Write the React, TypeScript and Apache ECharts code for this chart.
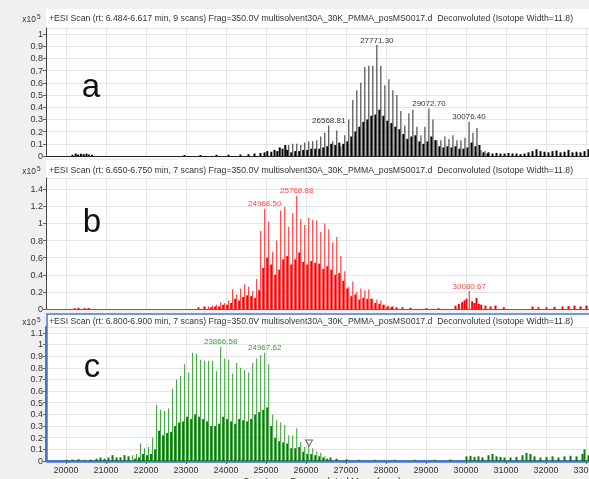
import React, { useEffect, useRef } from 'react';
import * as echarts from 'echarts';

const X_MIN = 19500;
const X_MAX = 33075;
const FONT = 'Liberation Sans, Arial, sans-serif';

const HEADERS = [
  '+ESI Scan (rt: 6.484-6.617 min, 9 scans) Frag=350.0V multisolvent30A_30K_PMMA_posMS0017.d  Deconvoluted (Isotope Width=11.8)',
  '+ESI Scan (rt: 6.650-6.750 min, 7 scans) Frag=350.0V multisolvent30A_30K_PMMA_posMS0017.d  Deconvoluted (Isotope Width=11.8)',
  '+ESI Scan (rt: 6.800-6.900 min, 7 scans) Frag=350.0V multisolvent30A_30K_PMMA_posMS0017.d  Deconvoluted (Isotope Width=11.8)',
];
const PANEL_LETTERS = ['a', 'b', 'c'];
const X_TITLE = 'Counts vs. Deconvoluted Mass (amu)';
const Y_UNIT = 'x10';
const Y_EXP = '5';

// ---- Panel a (black) ----
const aMain: [number, number][] = [
  [25569, 0.09], [25669, 0.10], [25769, 0.10], [25869, 0.09], [25969, 0.11], [26069, 0.12], [26169, 0.12],
  [26270, 0.13], [26370, 0.16], [26470, 0.19], [26568.81, 0.25], [26670, 0.12], [26770, 0.21], [26870, 0.08],
  [26970, 0.17], [27070, 0.30], [27171, 0.46], [27271, 0.54], [27371, 0.60], [27471, 0.73], [27571, 0.74],
  [27671, 0.74], [27771.3, 0.91], [27871, 0.74], [27972, 0.58], [28072, 0.63], [28172, 0.54], [28272, 0.50],
  [28372, 0.37], [28472, 0.25], [28572, 0.35], [28672, 0.38], [28773, 0.24], [28873, 0.17], [28973, 0.24],
  [29072.7, 0.39], [29173, 0.30], [29273, 0.13], [29373, 0.13], [29473, 0.16], [29574, 0.14], [29674, 0.17],
  [29774, 0.13], [29874, 0.13], [29974, 0.15], [30076.4, 0.28], [30174, 0.19], [30274, 0.23], [30374, 0.05],
  [30475, 0.04],
];
const aSub: [number, number][] = [
  [25619, 0.03], [25719, 0.04], [25819, 0.04], [25919, 0.05], [26019, 0.05], [26119, 0.06], [26219, 0.06],
  [26320, 0.06], [26420, 0.07], [26520, 0.08], [26619, 0.10], [26720, 0.09], [26820, 0.11], [26920, 0.10],
  [27020, 0.12], [27120, 0.16], [27221, 0.20], [27321, 0.24], [27421, 0.28], [27521, 0.30], [27621, 0.33],
  [27721, 0.34], [27821, 0.38], [27921, 0.33], [28022, 0.29], [28122, 0.27], [28222, 0.24], [28322, 0.22],
  [28422, 0.18], [28522, 0.14], [28622, 0.16], [28722, 0.17], [28823, 0.12], [28923, 0.10], [29023, 0.12],
  [29122, 0.16], [29223, 0.13], [29323, 0.08], [29423, 0.07], [29523, 0.08], [29624, 0.07], [29724, 0.08],
  [29824, 0.06], [29924, 0.06], [30024, 0.07], [30126, 0.11], [30224, 0.08], [30324, 0.09], [30424, 0.03],
  [30525, 0.02],
];
const aNoise: [number, number][] = [
  [20150, 0.01], [20230, 0.02], [20290, 0.012], [20360, 0.018], [20430, 0.015], [20500, 0.02], [20560, 0.012],
  [20640, 0.01], [22950, 0.008], [23350, 0.008], [23750, 0.01], [24050, 0.01], [24350, 0.012], [24550, 0.015],
  [24700, 0.02], [24850, 0.025], [24950, 0.03], [25020, 0.04], [25120, 0.035], [25200, 0.05], [25270, 0.04],
  [25330, 0.07], [25400, 0.06], [25470, 0.09], [25520, 0.05],
  [30550, 0.03], [30650, 0.02], [30750, 0.025], [30850, 0.02], [30950, 0.02], [31050, 0.025], [31150, 0.02],
  [31250, 0.02], [31350, 0.015], [31450, 0.02], [31550, 0.03], [31650, 0.04], [31750, 0.055], [31850, 0.04],
  [31950, 0.035], [32050, 0.03], [32150, 0.04], [32250, 0.045], [32350, 0.03], [32450, 0.035], [32550, 0.05],
  [32650, 0.03], [32750, 0.035], [32850, 0.03], [32950, 0.04], [33050, 0.055],
];
const aLabels = [26568.81, 27771.3, 29072.7, 30076.4];

// ---- Panel b (red) ----
const bMain: [number, number][] = [
  [23566, 0.03], [23666, 0.04], [23767, 0.05], [23867, 0.08], [23967, 0.07], [24067, 0.10], [24167, 0.23],
  [24267, 0.17], [24367, 0.24], [24467, 0.29], [24567, 0.26], [24668, 0.21], [24768, 0.35], [24868, 0.91],
  [24968.5, 1.17], [25068, 1.02], [25168, 0.67], [25268, 0.80], [25368, 1.15], [25469, 1.19], [25569, 0.96],
  [25669, 1.12], [25768.88, 1.32], [25869, 1.05], [25969, 0.98], [26069, 1.07], [26169, 1.04], [26270, 1.03],
  [26370, 0.90], [26470, 1.00], [26570, 0.93], [26670, 0.78], [26770, 0.84], [26870, 0.62], [26970, 0.44],
  [27070, 0.26], [27171, 0.32], [27271, 0.20], [27371, 0.24], [27471, 0.22], [27571, 0.23], [27671, 0.12],
  [27771, 0.11], [27871, 0.10], [27972, 0.05], [28072, 0.04],
];
const bSub: [number, number][] = [
  [23616, 0.02], [23716, 0.03], [23817, 0.03], [23917, 0.05], [24017, 0.05], [24117, 0.07], [24217, 0.12],
  [24317, 0.10], [24417, 0.14], [24517, 0.16], [24617, 0.15], [24718, 0.13], [24818, 0.22], [24918, 0.48],
  [25018, 0.60], [25118, 0.52], [25218, 0.40], [25318, 0.46], [25418, 0.58], [25519, 0.62], [25619, 0.52],
  [25719, 0.58], [25819, 0.66], [25919, 0.55], [26019, 0.52], [26119, 0.56], [26219, 0.54], [26320, 0.53],
  [26420, 0.47], [26520, 0.50], [26620, 0.46], [26720, 0.40], [26820, 0.42], [26920, 0.33], [27020, 0.24],
  [27120, 0.15], [27221, 0.17], [27321, 0.11], [27421, 0.13], [27521, 0.12], [27621, 0.12], [27721, 0.07],
  [27821, 0.06], [27921, 0.05], [28022, 0.03], [28122, 0.02],
];
const bNoise: [number, number][] = [
  [20200, 0.01], [20300, 0.015], [20450, 0.01], [20550, 0.012], [23300, 0.02], [23450, 0.03],
  [28150, 0.03], [28250, 0.02], [28400, 0.02], [28600, 0.015], [29000, 0.01], [29300, 0.01],
  [29725, 0.04], [29808, 0.06], [29892, 0.08], [29950, 0.10], [30000, 0.12], [30142, 0.09],
  [30200, 0.07], [30250, 0.13], [30308, 0.06], [30367, 0.05], [30475, 0.04], [30600, 0.03], [30725, 0.04],
  [30933, 0.02], [31650, 0.03], [31800, 0.02], [32000, 0.02], [32200, 0.025], [32400, 0.03], [32550, 0.035],
  [32700, 0.04], [32850, 0.03], [33000, 0.04],
];
const bSide: [number, number][] = [[30080.67, 0.21]];
const bLabels = [24968.5, 25768.88, 30080.67];

// ---- Panel c (green) ----
const cMain: [number, number][] = [
  [21664, 0.05], [21764, 0.06], [21864, 0.15], [21964, 0.11], [22064, 0.12], [22165, 0.20], [22265, 0.48],
  [22365, 0.44], [22465, 0.43], [22565, 0.45], [22665, 0.62], [22765, 0.70], [22865, 0.73], [22966, 0.83],
  [23066, 0.76], [23166, 0.93], [23266, 0.92], [23366, 0.87], [23466, 0.86], [23566, 0.86], [23666, 0.86],
  [23766, 0.77], [23866.58, 0.98], [23967, 0.88], [24067, 0.87], [24167, 0.75], [24267, 0.84], [24367, 0.80],
  [24467, 0.78], [24567, 0.76], [24668, 0.84], [24768, 0.88], [24868, 0.91], [24967.62, 0.93], [25068, 0.83],
  [25168, 0.40], [25268, 0.35], [25368, 0.33], [25468, 0.31], [25569, 0.22], [25669, 0.22], [25769, 0.28],
  [25869, 0.16], [25969, 0.12], [26069, 0.13], [26169, 0.11], [26270, 0.08], [26370, 0.07], [26470, 0.04],
];
const cSub: [number, number][] = [
  [21714, 0.02], [21814, 0.03], [21914, 0.06], [22014, 0.05], [22114, 0.06], [22215, 0.10], [22315, 0.26],
  [22415, 0.22], [22515, 0.24], [22615, 0.25], [22715, 0.30], [22815, 0.33], [22915, 0.34], [23016, 0.38],
  [23116, 0.36], [23216, 0.40], [23316, 0.38], [23416, 0.36], [23516, 0.34], [23616, 0.30], [23716, 0.30],
  [23816, 0.32], [23917, 0.38], [24017, 0.36], [24117, 0.34], [24217, 0.32], [24317, 0.36], [24417, 0.35],
  [24517, 0.34], [24617, 0.36], [24718, 0.40], [24818, 0.42], [24918, 0.44], [25018, 0.46], [25118, 0.30],
  [25218, 0.20], [25318, 0.17], [25418, 0.16], [25518, 0.15], [25619, 0.11], [25719, 0.11], [25819, 0.12],
  [25919, 0.08], [26019, 0.06], [26119, 0.06], [26220, 0.05], [26320, 0.04], [26420, 0.03], [26520, 0.02],
];
const cNoise: [number, number][] = [
  [20000, 0.01], [20150, 0.012], [20300, 0.015], [20450, 0.01], [20600, 0.012], [20750, 0.02], [20850, 0.03],
  [20950, 0.02], [21050, 0.03], [21150, 0.05], [21250, 0.03], [21350, 0.03], [21450, 0.05], [21550, 0.04],
  [26600, 0.03], [26750, 0.02], [27000, 0.015], [27300, 0.01], [27700, 0.01], [28200, 0.01], [28700, 0.01],
  [29200, 0.01], [29600, 0.012], [30000, 0.04], [30100, 0.045], [30200, 0.035], [30300, 0.04], [30400, 0.03],
  [30550, 0.05], [30650, 0.06], [30750, 0.04], [30850, 0.035], [30950, 0.03], [31100, 0.03], [31250, 0.035],
  [31400, 0.05], [31500, 0.07], [31600, 0.06], [31700, 0.04], [31850, 0.03], [32000, 0.035], [32150, 0.04],
  [32300, 0.03], [32450, 0.04], [32600, 0.045], [32750, 0.04], [32900, 0.06], [32950, 0.10], [33050, 0.05],
];
const cLabels = [23866.58, 24967.62];
const cMarker: [number, number][] = [[26075, 0.155]];

// y axes
const Y_MAX = [1.05, 1.53, 1.15];
const Y_STEP = [0.1, 0.2, 0.1];

const GRIDS = [
  { left: 46, top: 28, width: 543, height: 128 },
  { left: 46, top: 178, width: 543, height: 131 },
  { left: 46, top: 327, width: 543, height: 134 },
];

function buildData(groups: [number, number][][], labels: number[], color: string) {
  const items: any[] = [];
  groups.forEach((g) =>
    g.forEach(([m, v]) => {
      const isLab = labels.indexOf(m) >= 0;
      items.push(
        isLab
          ? {
              value: [m, v],
              label: {
                show: true,
                position: 'top',
                distance: 1,
                formatter: m.toFixed(2),
                color,
                fontSize: 8,
                fontFamily: FONT,
              },
            }
          : { value: [m, v] }
      );
    })
  );
  return items;
}

export default function App() {
  const ref = useRef<HTMLDivElement>(null);
  useEffect(() => {
    if (!ref.current) return;
    const chart = echarts.init(ref.current, undefined, { renderer: 'svg' });
    const BLUE = '#4a76c6';
    const axisColors = ['#444', '#444', BLUE];
    const xLineColors = ['#222', '#ff2020', BLUE];

    const xAxis = GRIDS.map((_, i) => ({
      type: 'value',
      gridIndex: i,
      min: X_MIN,
      max: X_MAX,
      minInterval: 1000,
      maxInterval: 1000,
      splitNumber: 13,
      axisLine: { show: true, onZero: false, lineStyle: { color: xLineColors[i], width: i === 2 ? 2 : 1 } },
      axisTick: { show: i === 2, length: 3, lineStyle: { color: '#666' } },
      axisLabel: {
        show: i === 2,
        showMinLabel: false,
        showMaxLabel: false,
        fontSize: 9,
        color: '#333',
        fontFamily: FONT,
        margin: 4,
        formatter: (v: number) => String(Math.round(v)),
      },
      splitLine: { show: true, lineStyle: { color: '#e4e4e4', width: 1 } },
    }));
    const yAxis = GRIDS.map((_, i) => ({
      type: 'value',
      gridIndex: i,
      min: 0,
      max: Y_MAX[i],
      interval: Y_STEP[i],
      axisLine: { show: true, lineStyle: { color: axisColors[i], width: i === 2 ? 2 : 1 } },
      axisTick: { show: true, length: 3, lineStyle: { color: '#666' } },
      axisLabel: {
        showMaxLabel: false,
        fontSize: 9,
        color: '#333',
        fontFamily: FONT,
        margin: 3,
      },
      splitLine: { show: true, lineStyle: { color: '#e4e4e4', width: 1 } },
    }));

    const panels = [
      { main: [aMain], fill: [aNoise, aSub], labels: aLabels, lab: '#333', cMain: '#2a2a2a', cFill: '#000' },
      { main: [bMain, bSide], fill: [bNoise, bSub], labels: bLabels, lab: '#ff4a4a', cMain: '#ff2020', cFill: '#ff0000' },
      { main: [cMain], fill: [cNoise, cSub], labels: cLabels, lab: '#3d9a3d', cMain: '#2f9e2f', cFill: '#0a7a0a' },
    ];
    const series: any[] = [];
    panels.forEach((p, i) => {
      series.push({
        type: 'bar',
        xAxisIndex: i,
        yAxisIndex: i,
        barWidth: 2,
        barGap: '-100%',
        itemStyle: { color: p.cFill },
        data: buildData(p.fill, [], p.lab),
        z: 3,
      });
      series.push({
        type: 'bar',
        xAxisIndex: i,
        yAxisIndex: i,
        barWidth: 1,
        barGap: '-100%',
        itemStyle: { color: p.cMain },
        data: buildData(p.main, p.labels, p.lab),
        z: 4,
      });
    });
    series.push({
      type: 'scatter',
      xAxisIndex: 2,
      yAxisIndex: 2,
      symbol: 'triangle',
      symbolRotate: 180,
      symbolSize: [7, 6],
      itemStyle: { color: 'rgba(255,255,255,0.7)', borderColor: '#444', borderWidth: 1 },
      data: cMarker,
      z: 5,
    });

    const headerY = [18, 170, 321];
    const letterPos = [
      [91, 85.5],
      [92, 220.5],
      [92, 365.5],
    ];
    const graphics: any[] = [
      { type: 'rect', shape: { x: 0, y: 0, width: 589, height: 479 }, style: { fill: '#f0f0f0' }, z: -100 },
      { type: 'rect', shape: { x: 46, y: 9, width: 543, height: 149 }, style: { fill: '#ffffff' }, z: -99 },
      { type: 'rect', shape: { x: 46, y: 160, width: 543, height: 150 }, style: { fill: '#ffffff' }, z: -99 },
      { type: 'rect', shape: { x: 46, y: 313, width: 543, height: 149 }, style: { fill: '#ffffff' }, z: -99 },
      {
        type: 'rect',
        shape: { x: 47, y: 314, width: 560, height: 148 },
        style: { fill: 'none', stroke: BLUE, lineWidth: 1.5 },
        z: 50,
      },
      {
        type: 'text',
        x: 322,
        y: 480,
        style: { text: X_TITLE, fontSize: 9.5, fill: '#333', fontFamily: FONT, align: 'center', verticalAlign: 'middle' },
        z: 50,
      },
    ];
    HEADERS.forEach((h, i) => {
      graphics.push({
        type: 'text',
        x: 49,
        y: headerY[i],
        style: { text: h, fontSize: 8.7, fill: '#333', fontFamily: FONT, verticalAlign: 'middle' },
        z: 50,
      });
      graphics.push({
        type: 'text',
        x: 36,
        y: headerY[i] + 0.5,
        style: { text: Y_UNIT, fontSize: 8.5, fill: '#333', fontFamily: FONT, align: 'right', verticalAlign: 'middle' },
        z: 50,
      });
      graphics.push({
        type: 'text',
        x: 37,
        y: headerY[i] - 2,
        style: { text: Y_EXP, fontSize: 6.5, fill: '#333', fontFamily: FONT, verticalAlign: 'middle' },
        z: 50,
      });
      graphics.push({
        type: 'text',
        x: letterPos[i][0],
        y: letterPos[i][1],
        style: {
          text: PANEL_LETTERS[i],
          fontSize: 33,
          fill: '#111',
          fontFamily: FONT,
          align: 'center',
          verticalAlign: 'middle',
        },
        z: 50,
      });
    });

    chart.setOption({
      animation: false,
      grid: GRIDS.map((g) => ({ ...g, containLabel: false, outerBoundsMode: 'none' })),
      xAxis,
      yAxis,
      series,
      graphic: { elements: graphics },
    });
    return () => chart.dispose();
  }, []);

  return <div ref={ref} style={{ position: 'fixed', left: 0, top: 0, width: 589, height: 479 }} />;
}
